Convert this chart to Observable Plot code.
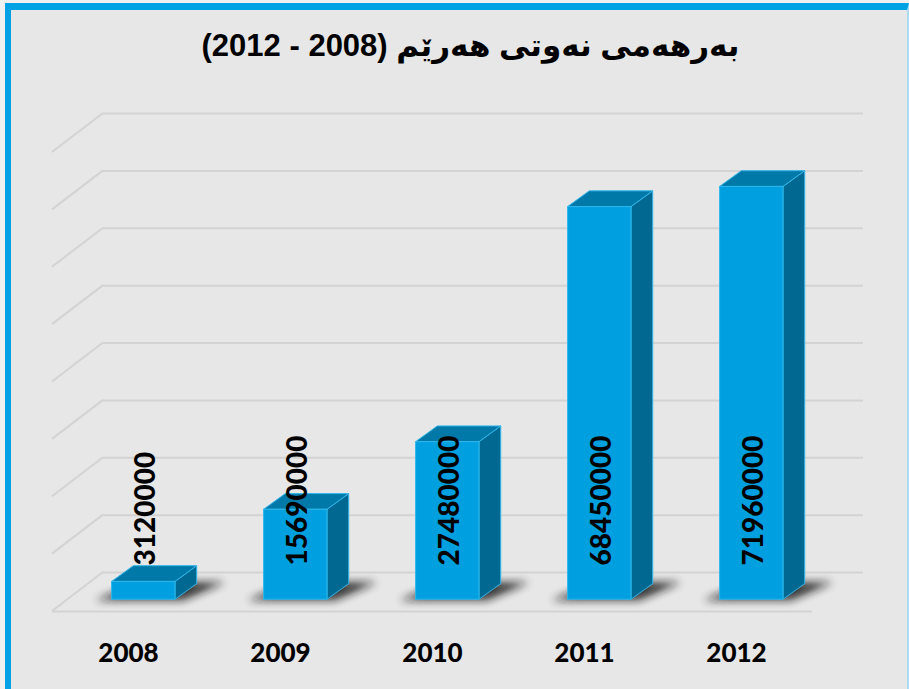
<!DOCTYPE html>
<html>
<head>
<meta charset="utf-8">
<script src="https://cdn.jsdelivr.net/npm/d3@7"></script>
<script src="https://cdn.jsdelivr.net/npm/@observablehq/plot@0.6"></script>
<style>
  html, body { margin: 0; padding: 0; background: #f1f1f1; }
  #frame { position: relative; width: 909px; height: 689px; overflow: hidden; background: #f1f1f1; }
  #panel { position: absolute; left: 5px; top: 3px; width: 904px; height: 700px; box-sizing: border-box;
           background: #e7e7e7; border-top: 7px solid #00a2e3; border-left: 6px solid #00a2e3; border-right: 2px solid #a9dcf1; }
  #title { position: absolute; left: 16px; top: 30px; width: 909px; text-align: center; direction: rtl;
           font: bold 31px/32px "Liberation Sans", Arial, "DejaVu Sans", sans-serif; color: #000; white-space: nowrap; }
  #chart { position: absolute; left: 0; top: 90px; }
</style>
</head>
<body>
<div id="frame">
  <div id="panel"></div>
  <div id="title" dir="rtl">بەرهەمی نەوتی هەرێم (2008 - 2012)</div>
  <div id="chart"></div>
</div>
<script>
// ---- data ----
const years = ["2008", "2009", "2010", "2011", "2012"];
const production = [3120000, 15690000, 27480000, 68450000, 71960000];
const gridTicks = [0, 10000000, 20000000, 30000000, 40000000, 50000000, 60000000, 70000000, 80000000];
const valueLabels = production.map(v => String(v));

// ---- 3D geometry (styling constants) ----
const wallDX = 51, wallDY = -39;      // depth of floor / back wall
const faceDX = 15.3, faceDY = -11.7;  // bar front-face depth
const sideDX = 21.7, sideDY = -15.7;  // bar depth
const barFrac = 0.417;

function diagonals(index, scales, values, dimensions) {
  const {y} = scales;
  const g = d3.create("svg:g");
  const x0 = dimensions.marginLeft;
  for (const t of gridTicks) {
    g.append("line")
      .attr("x1", x0).attr("y1", y(t))
      .attr("x2", x0 + wallDX).attr("y2", y(t) + wallDY)
      .attr("stroke", "#d3d3d3").attr("stroke-width", 2);
  }
  return g.node();
}

function bars3d(index, scales, values, dimensions) {
  const {x, y} = scales;
  const n = years.length;
  const bw = (typeof x.bandwidth === "function" && x.bandwidth() > 0) ? x.bandwidth()
    : (dimensions.width - dimensions.marginLeft - dimensions.marginRight) / n;
  const g = d3.create("svg:g");
  const f = g.append("defs").append("filter").attr("id", "shBlur")
    .attr("x", "-50%").attr("y", "-50%").attr("width", "200%").attr("height", "200%");
  f.append("feGaussianBlur").attr("stdDeviation", 4);
  years.forEach((yr, i) => {
    const cx = x(yr) + bw / 2 + faceDX;
    const w = bw * barFrac;
    const L = cx - w / 2, R = cx + w / 2;
    const B = y(0) + faceDY, T = y(production[i]) + faceDY;
    const pts = a => a.map(p => p.join(",")).join(" ");
    // shadow on the floor
    g.append("polygon")
      .attr("points", pts([[L - 16, B + 1], [R + 8, B + 1], [R + 50, B - 17], [L + 28, B - 17]]))
      .attr("fill", "#151515").attr("opacity", 0.85).attr("filter", "url(#shBlur)");
    // side face
    g.append("polygon")
      .attr("points", pts([[R, T], [R + sideDX, T + sideDY], [R + sideDX, B + sideDY], [R, B]]))
      .attr("fill", "#006891").attr("stroke", "#2fb6ea").attr("stroke-width", 1);
    // top face
    g.append("polygon")
      .attr("points", pts([[L, T], [R, T], [R + sideDX, T + sideDY], [L + sideDX, T + sideDY]]))
      .attr("fill", "#0079a8").attr("stroke", "#2fb6ea").attr("stroke-width", 1);
    // front face
    g.append("rect")
      .attr("x", L).attr("y", T).attr("width", w).attr("height", B - T)
      .attr("fill", "#00a0e0").attr("stroke", "#2fb6ea").attr("stroke-width", 1);
  });
  return g.node();
}

const chart = Plot.plot({
  width: 909,
  height: 599,
  marginLeft: 52,
  marginRight: 97,
  marginTop: 62,
  marginBottom: 78,
  style: { fontFamily: "Lato, 'Open Sans', sans-serif", fontSize: "26px", fontWeight: "900", color: "#000", background: "transparent" },
  x: { type: "band", domain: years, padding: 0, tickSize: 0, tickPadding: 32, label: null },
  y: { domain: [0, 80000000], axis: null },
  marks: [
    Plot.ruleY(gridTicks, { dx: wallDX, dy: wallDY, stroke: "#d3d3d3", strokeWidth: 2 }),
    diagonals,
    Plot.ruleY([0], { stroke: "#d3d3d3", strokeWidth: 2 }),
    bars3d,
    Plot.text(valueLabels, {
      x: (d, i) => years[i],
      y: 0,
      text: d => d,
      rotate: -90,
      textAnchor: "start",
      lineAnchor: "middle",
      dx: faceDX + 2,
      dy: -46,
      fontSize: 28,
      fontWeight: "900",
      fill: "#000"
    })
  ]
});
document.getElementById("chart").appendChild(chart);
</script>
</body>
</html>
